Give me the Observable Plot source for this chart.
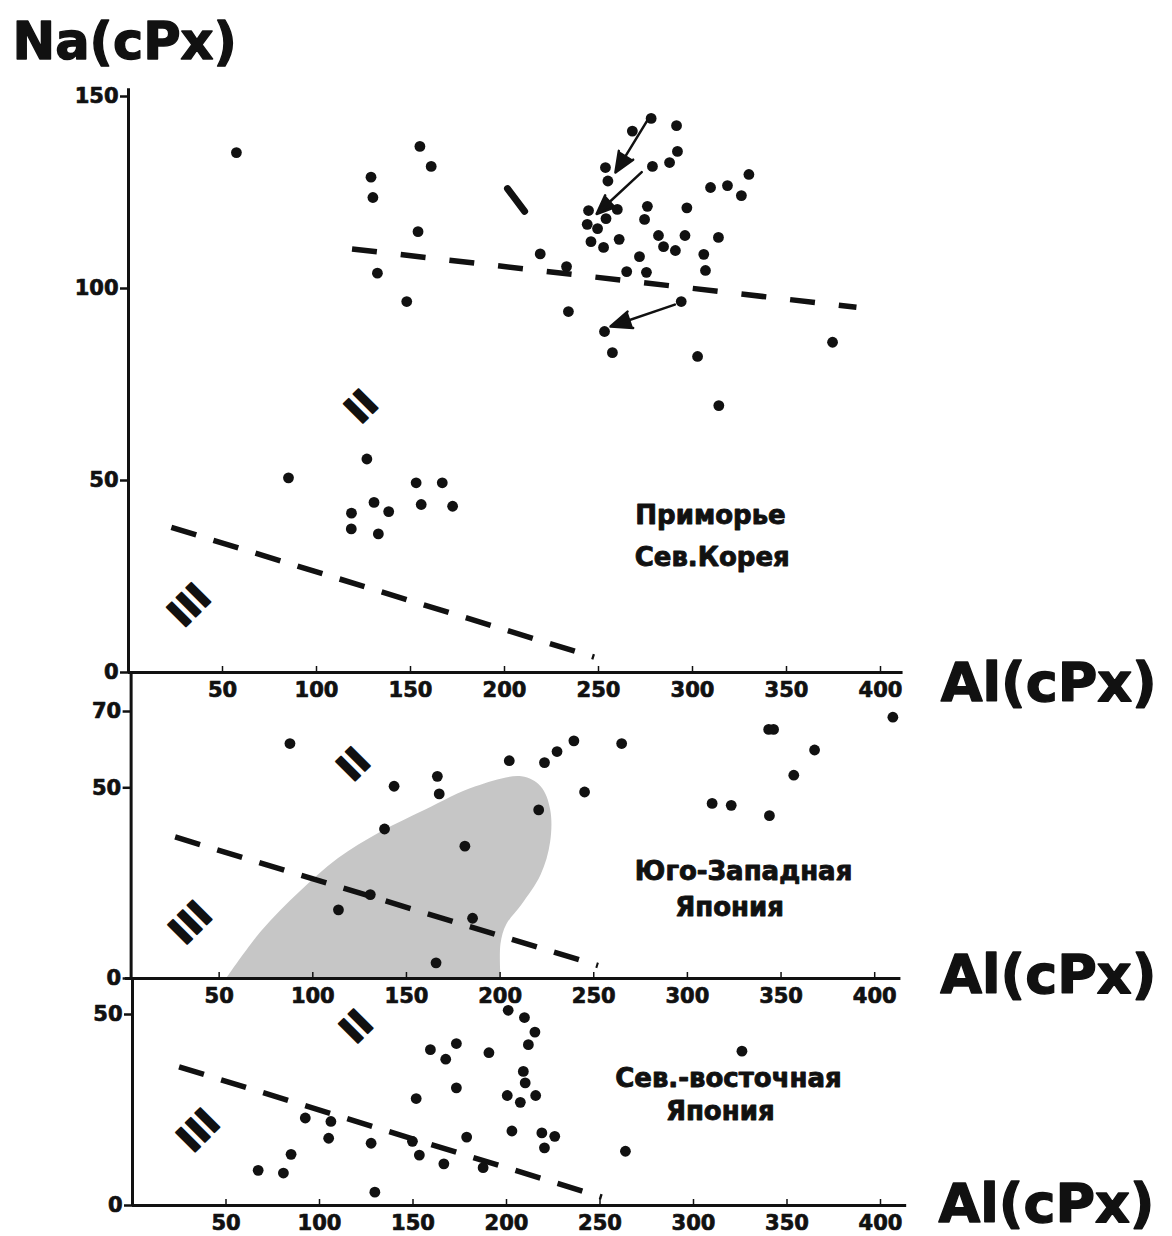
<!DOCTYPE html>
<html><head><meta charset="utf-8">
<script src="https://cdn.jsdelivr.net/npm/d3@7"></script>
<script src="https://cdn.jsdelivr.net/npm/@observablehq/plot@0.6"></script>
<style>
html,body{margin:0;padding:0;background:#fff;}
#wrap{position:relative;width:1172px;height:1236px;overflow:hidden;background:#fff;}
#wrap svg{position:absolute;left:0;overflow:visible;}
</style></head><body><div id="wrap"></div>
<script>
// ---------- data ----------
const xTicks = [50, 100, 150, 200, 250, 300, 350, 400];
const yTicks1 = [0, 50, 100, 150];
const yTicks2 = [0, 50, 70];
const yTicks3 = [0, 50];

// Panel 1: Приморье, Сев.Корея  [Al, Na]
const pts1 = [
  [57.4,135.4],[129,129],[130,123.7],[155,137],[161,131.8],[154,114.8],[132.4,104],[148,96.6],
  [219,109],[233,105.7],[234,94],
  [278,144.3],[268,141],[291.5,142.4],[253.7,131.5],[255,128],[278.7,131.8],[287.8,132.8],[292,135.7],
  [330,129.7],[309.6,126.3],[318.6,126.8],[326,124.2],
  [244.7,120.3],[260,120.6],[276,121.4],[297,121],[244,116.7],[249.5,115.6],[254,118.2],[274.5,118],
  [246,112.2],[252.7,110.7],[261,112.8],[281.9,113.8],[296,113.8],[313.8,113.3],[284.6,110.9],[290.9,109.9],
  [271.8,108.3],[306,108.9],[306.9,104.7],[265,104.4],[275.5,104.2],
  [294,96.6],[253.2,88.8],[257.4,83.3],[302.7,82.3],[374.5,86],[314,69.5],
  [85.1,50.7],[126.8,55.6],[130.6,44.3],[118.6,41.5],[138.4,41.9],[118.5,37.4],[132.9,36.1],
  [153,49.4],[166.9,49.4],[155.7,43.75],[172.4,43.3]
];
const arrows1 = [
  [277.3,144.8,259,130.2],
  [273,130.3,249,119.4],
  [290.6,95.8,256.4,90.1]
];
const lineUpper1 = [[118.9,110.3],[387.2,95.1]];
const lineLower1 = [[22.8,37.8],[247.7,4.0]];
const tick1 = [[201.6,126],[210.7,120.1]];

// Panel 2: Юго-Западная Япония
const pts2 = [
  [87.8,61.6],[143.4,50.4],[166.5,53],[167.5,48.4],[138.3,39.2],[181.2,34.7],[204.9,57.1],[223.7,56.6],
  [230.4,59.5],[239.4,62.3],[264.9,61.6],[245.1,48.9],[220.6,44.2],[130.7,22],[113.7,18],[185.3,15.8],
  [165.8,4.1],[409.7,68.5],[343.4,65.3],[346,65.3],[367.9,59.9],[356.8,53.3],[313.2,45.9],[323.4,45.4],[343.8,42.7]
];
const field2 = [
  [54.1,0.3],[72.5,12.5],[92.9,22.8],[113.3,31.5],[135.8,38.4],[160.3,44.4],[186.9,50.4],[211.4,53],
  [221.6,50.4],[226.7,44.4],[226.7,35.8],[221.6,27.2],[211.4,19.4],[203.3,14.2],[200.2,9.1],[200.2,0.3]
];
const line2 = [[26.5,37.1],[252.3,3.4]];

// Panel 3: Сев.-восточная Япония
const pts3 = [
  [200.9,51.1],[209.6,49.2],[215.2,45.4],[211.7,42.1],[173.2,42.4],[159.3,40.8],[167.5,38.3],[190.6,40],
  [209,35.1],[210,32.1],[173.2,30.8],[200.4,28.8],[207.4,27],[215.6,28.8],[151.7,28],[202.9,19.5],
  [218.9,19],[225.8,18.1],[220.3,15.1],[178.7,17.9],[149.7,16.8],[153.4,13.2],[166.5,10.9],[187.5,9.9],
  [127.6,16.3],[129.6,3.5],[92.4,22.9],[106.1,22],[104.9,17.6],[84.8,13.4],[67.2,9.2],[80.7,8.5],
  [263.6,14.2],[325.9,40.4]
];
const line3 = [[24.9,36.3],[251,2.2]];

// labels
const regionLabels1 = [["Приморье",309.6,40.9],["Сев.Корея",310.5,30]];
const regionLabels2 = [["Юго-Западная",330,28],["Япония",322.5,18.5]];
const regionLabels3 = [["Сев.-восточная",318.7,33.2],["Япония",314.3,24.5]];
const numerals1 = [["II",124.1,69.1],["III",32.6,17.4]];
const numerals2 = [["II",122,56],["III",35,14.5]];
const numerals3 = [["II",120,46.7],["III",35.5,19.5]];

// ---------- helpers ----------
const FONT = "DejaVu Sans";
const INK = "#111";
const P = a => a.map(([x,y]) => ({x,y}));
const L = a => a.map(([t,x,y]) => ({t,x,y}));
const heavy = {fontWeight: "bold", fontFamily: FONT, fill: INK, stroke: INK};

function panel(cfg) {
  const {top, height, mt, mb, x0, k, xMax, yMax, yTicks, axisX, axisTop, pts, dashLines, extra, labels, numerals, alLabel, before} = cfg;
  const marks = [];
  if (before) marks.push(...before);
  marks.push(
    Plot.ruleY([0], {x1: 0, x2: xMax, strokeWidth: 3, stroke: INK}),
    Plot.ruleX([axisX], {y1: 0, y2: axisTop, strokeWidth: 3, stroke: INK}),
    // x ticks (pointing up) and labels
    Plot.axisX(xTicks, {tickSize: -6, tickFormat: () => "", label: null, strokeWidth: 1.5, stroke: INK}),
    Plot.text(xTicks, {x: d => d, y: 0, dy: 18, text: d => String(d), fontSize: 21, ...heavy, strokeWidth: 0.7}),
    // y ticks (pointing left) and labels
    Plot.ruleY(yTicks, {x1: axisX, x2: axisX, insetLeft: -8, strokeWidth: 2.5, stroke: INK}),
    Plot.text(yTicks, {x: axisX, y: d => d, dx: -10, textAnchor: "end", text: d => String(d), fontSize: 21, ...heavy, strokeWidth: 0.7})
  );
  for (const [dl, dash] of dashLines) {
    marks.push(Plot.line(P(dl), {x: "x", y: "y", stroke: INK, strokeWidth: 5.5, strokeDasharray: dash, strokeLinecap: "butt"}));
  }
  if (extra) marks.push(...extra);
  marks.push(
    Plot.dot(P(pts), {x: "x", y: "y", r: 5.4, fill: INK, stroke: "none"}),
    Plot.text(L(labels), {x: "x", y: "y", text: "t", fontSize: 26, ...heavy, strokeWidth: 0.9}),
    Plot.text(L(numerals), {x: "x", y: "y", text: "t", rotate: -45, fontSize: 37, ...heavy, strokeWidth: 2}),
    Plot.text([alLabel], {x: d => d[1], y: d => d[2], text: d => d[0], textAnchor: "start", fontSize: 54, ...heavy, strokeWidth: 1.4, letterSpacing: 1.3})
  );
  if (cfg.title) marks.push(cfg.title);
  const svg = Plot.plot({
    width: 1172, height,
    marginTop: mt, marginBottom: mb, marginLeft: x0, marginRight: 1172 - x0 - xMax * k,
    x: {domain: [0, xMax], label: null},
    y: {domain: [0, yMax], label: null, axis: null},
    style: {overflow: "visible", background: "transparent", fontFamily: FONT, fontWeight: "bold", color: INK},
    marks
  });
  svg.style.top = top + "px";
  document.getElementById("wrap").appendChild(svg);
}

// Panel 1
panel({
  top: 0, height: 712, mt: 96, mb: 40, x0: 128, k: 1.88, xMax: 412, yMax: 150,
  yTicks: yTicks1, axisX: 0, axisTop: 152, pts: pts1,
  dashLines: [[lineUpper1, "25,24"], [lineLower1, "26,18"]],
  extra: [
    Plot.line(P(tick1), {x: "x", y: "y", stroke: INK, strokeWidth: 7}),
    Plot.arrow(arrows1, {x1: d => d[0], y1: d => d[1], x2: d => d[2], y2: d => d[3], stroke: INK, fill: INK, strokeWidth: 2.5, headLength: 18, headAngle: 45})
  ],
  labels: regionLabels1, numerals: numerals1,
  alLabel: ["Al(cPx)", 432, -2.9],
  title: Plot.text([["Na(cPx)", -61.7, 164]], {x: d => d[1], y: d => d[2], text: d => d[0], textAnchor: "start", fontSize: 51, ...heavy, strokeWidth: 1.4, letterSpacing: 2.5})
});

// Panel 2
panel({
  top: 700, height: 310, mt: 11, mb: 32, x0: 125, k: 1.873, xMax: 414, yMax: 70,
  yTicks: yTicks2, axisX: 3, axisTop: 80, pts: pts2,
  before: [Plot.line(P(field2), {x: "x", y: "y", fill: "#c6c6c6", stroke: "none", curve: "catmull-rom"})],
  dashLines: [[line2, "26,18"]],
  labels: regionLabels2, numerals: numerals2,
  alLabel: ["Al(cPx)", 435, 0.8]
});

// Panel 3
panel({
  top: 1000, height: 236, mt: 14, mb: 31, x0: 132, k: 1.87, xMax: 414, yMax: 50,
  yTicks: yTicks3, axisX: 0, axisTop: 59, pts: pts3,
  dashLines: [[line3, "26,18"]],
  labels: regionLabels3, numerals: numerals3,
  alLabel: ["Al(cPx)", 431, 0.3]
});
</script>
</body></html>
